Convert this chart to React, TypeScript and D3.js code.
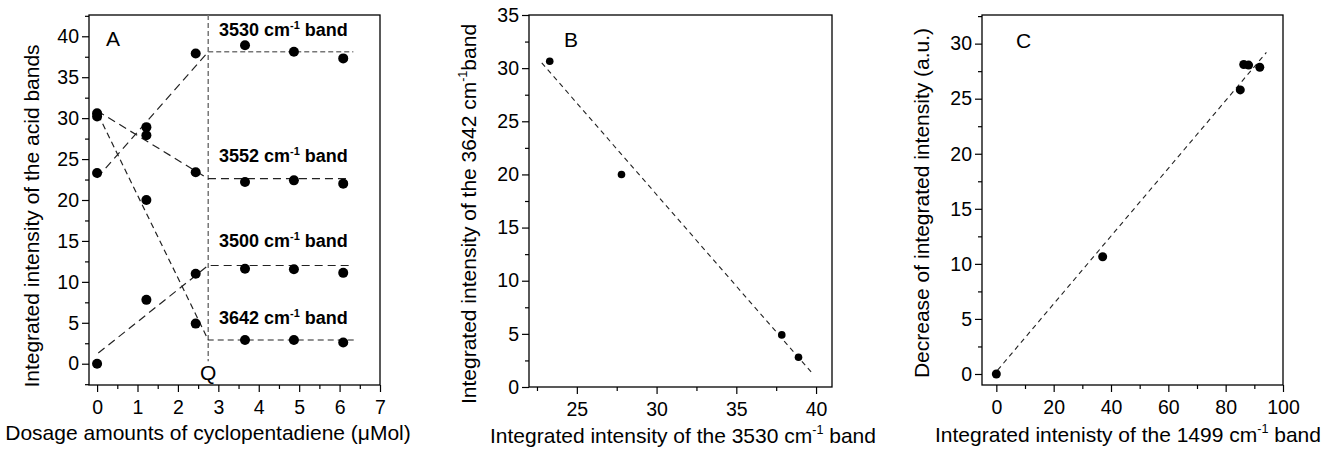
import React, { useRef, useEffect } from "react";
import * as d3 from "d3";

// panel A: dosage of cyclopentadiene (uMol) vs integrated intensity
const doseA = [0, 1.22, 2.44, 3.66, 4.87, 6.09];
const band3530 = [23.3, 28.9, 37.9, 38.9, 38.1, 37.3];
const band3552 = [30.2, 27.9, 23.4, 22.2, 22.4, 22.0];
const band3500 = [0, 7.8, 11.0, 11.6, 11.55, 11.1];
const band3642 = [30.6, 20.0, 4.9, 2.9, 2.9, 2.6];
const qDose = 2.75;
const fit3530 = [[0, 22.7], [2.75, 38.1]];
const flat3530 = [[2.75, 38.1], [6.34, 38.1]];
const fit3552 = [[0, 30.9], [2.75, 22.6], [6.22, 22.6]];
const fit3642 = [[0.03, 30.4], [2.75, 2.9], [6.35, 2.9]];
const fit3500 = [[0.03, 1.3], [2.75, 12.0], [6.32, 12.0]];
const bandLabels = [
  { band: "3530", y: 40.0 },
  { band: "3552", y: 24.6 },
  { band: "3500", y: 14.3 },
  { band: "3642", y: 4.85 },
];

// panel B: 3530 vs 3642 band
const x3530B = [23.3, 27.8, 37.85, 38.9];
const y3642B = [30.65, 20.0, 4.9, 2.8];
const fitB = [[22.8, 30.5], [39.7, 1.4]];

// panel C: 1499 band vs decrease
const x1499 = [0, 37.1, 85.1, 86.3, 88.0, 91.9];
const decreaseC = [0, 10.65, 25.8, 28.1, 28.05, 27.85];
const fitC = [[0.45, 0.35], [94.2, 29.2]];

const FONT = "'Liberation Sans', Arial, sans-serif";
const TICK_FONT = 19.5;
const AXIS_FONT = 21;

function frame(svg, box, xDom, yDom, xMajor, xMinor, yMajor, yMinor) {
  const x = d3.scaleLinear().domain(xDom).range([box.l, box.r]);
  const y = d3.scaleLinear().domain(yDom).range([box.b, box.t]);
  const g = svg.append("g");
  const inX = (v) => v >= xDom[0] - 1e-9 && v <= xDom[1] + 1e-9;
  const inY = (v) => v >= yDom[0] - 1e-9 && v <= yDom[1] + 1e-9;

  const ax = (axis, tr) => {
    const a = g.append("g").attr("transform", tr).call(axis);
    a.select(".domain").remove();
    a.selectAll("line").attr("stroke", "#000").attr("stroke-width", 1.2);
    a.selectAll("text").attr("font-family", FONT).attr("font-size", TICK_FONT).attr("fill", "#000");
    return a;
  };
  ax(d3.axisBottom(x).tickValues(xMajor).tickSize(7).tickPadding(8).tickFormat(d3.format("d")), `translate(0,${box.b})`);
  ax(d3.axisBottom(x).tickValues(xMinor.filter(inX)).tickSize(4).tickFormat(() => ""), `translate(0,${box.b})`);
  ax(d3.axisLeft(y).tickValues(yMajor).tickSize(7).tickPadding(3).tickFormat(d3.format("d")), `translate(${box.l},0)`);
  ax(d3.axisLeft(y).tickValues(yMinor.filter(inY)).tickSize(4).tickFormat(() => ""), `translate(${box.l},0)`);

  g.append("rect")
    .attr("x", box.l).attr("y", box.t)
    .attr("width", box.r - box.l).attr("height", box.b - box.t)
    .attr("fill", "none").attr("stroke", "#000").attr("stroke-width", 1.3);
  return { x, y };
}

function dashed(svg, x, y, pts, color, dash, w = 1.2) {
  svg.append("path")
    .attr("d", d3.line().x((d) => x(d[0])).y((d) => y(d[1]))(pts))
    .attr("fill", "none").attr("stroke", color)
    .attr("stroke-width", w).attr("stroke-dasharray", dash);
}

function dots(svg, x, y, xs, ys, r) {
  svg.append("g").selectAll("circle").data(xs).enter().append("circle")
    .attr("cx", (d) => x(d)).attr("cy", (d, i) => y(ys[i])).attr("r", r).attr("fill", "#000");
}

function label(svg, x, y, rotate, parts, size = AXIS_FONT) {
  const t = svg.append("text")
    .attr("font-family", FONT).attr("font-size", size)
    .attr("text-anchor", "middle")
    .attr("transform", `translate(${x},${y})${rotate ? " rotate(-90)" : ""}`);
  parts.forEach((p) => {
    if (p.sup) {
      t.append("tspan").attr("font-size", size * 0.6).attr("dy", -size * 0.42).text(p.sup);
      t.append("tspan").attr("dy", size * 0.42).text(p.after || "");
    } else {
      t.append("tspan").text(p.text);
    }
  });
}

function letter(svg, x, y, txt, anchor = "start") {
  svg.append("text").attr("font-family", FONT).attr("font-size", 21)
    .attr("x", x).attr("y", y).attr("text-anchor", anchor).text(txt);
}

const App = () => {
  const svgRef = useRef();

  useEffect(() => {
    const svg = d3.select(svgRef.current);
    svg.selectAll("*").remove();
    const range = (a, b, s) => d3.range(a, b + s / 2, s);

    // ---- A ----
    const A = frame(svg, { l: 89, r: 380, t: 15, b: 385 }, [-0.2, 7], [-2.6, 42.6],
      range(0, 7, 1), range(0.5, 6.5, 1), range(0, 40, 5), range(-2.5, 42.5, 5));
    svg.append("line")
      .attr("x1", A.x(qDose)).attr("x2", A.x(qDose))
      .attr("y1", A.y(42.6)).attr("y2", A.y(0.3))
      .attr("stroke", "#777").attr("stroke-width", 1.5).attr("stroke-dasharray", "5,3");
    dashed(svg, A.x, A.y, fit3530, "#222", "8,5");
    dashed(svg, A.x, A.y, flat3530, "#777", "5,3", 1.5);
    dashed(svg, A.x, A.y, fit3552, "#222", "8,5");
    dashed(svg, A.x, A.y, fit3642, "#222", "6,4");
    dashed(svg, A.x, A.y, fit3500, "#222", "8,5");
    [band3530, band3552, band3500, band3642].forEach((s) => dots(svg, A.x, A.y, doseA, s, 5));
    bandLabels.forEach((b) => {
      const t = svg.append("text").attr("font-family", FONT).attr("font-weight", "bold")
        .attr("font-size", 18).attr("x", 219).attr("y", A.y(b.y));
      t.append("tspan").text(`${b.band} cm`);
      t.append("tspan").attr("font-size", 11).attr("dy", -7).text("-1");
      t.append("tspan").attr("dy", 7).text(" band");
    });
    letter(svg, 106, 46, "A");
    letter(svg, A.x(qDose), 380, "Q", "middle");
    label(svg, 39, 216, true, [{ text: "Integrated intensity of the acid bands" }]);
    label(svg, 208, 440, false, [{ text: "Dosage amounts of cyclopentadiene (\u03bcMol)" }]);

    // ---- B ----
    const B = frame(svg, { l: 529, r: 832, t: 15, b: 387 }, [22, 41], [0, 35],
      range(25, 40, 5), range(22.5, 42.5, 5), range(0, 35, 5), range(2.5, 32.5, 5));
    dashed(svg, B.x, B.y, fitB, "#222", "5,4", 1.1);
    dots(svg, B.x, B.y, x3530B, y3642B, 3.8);
    letter(svg, 564, 47, "B");
    label(svg, 476, 214, true, [{ text: "Integrated intensity of the 3642 cm" }, { sup: "-1", after: "band" }]);
    label(svg, 683, 443, false, [{ text: "Integrated intensity of the 3530 cm" }, { sup: "-1", after: "  band" }]);

    // ---- C ----
    const C = frame(svg, { l: 982, r: 1283, t: 15, b: 385 }, [-5, 100], [-1, 32.6],
      range(0, 100, 20), range(10, 90, 20), range(0, 30, 5), range(2.5, 32.5, 5));
    dashed(svg, C.x, C.y, fitC, "#222", "5,4", 1.1);
    dots(svg, C.x, C.y, x1499, decreaseC, 4.5);
    letter(svg, 1016, 48, "C");
    label(svg, 929, 203, true, [{ text: "Decrease of integrated intensity (a.u.)" }]);
    label(svg, 1128, 442, false, [{ text: "Integrated intenisty of the 1499 cm" }, { sup: "-1", after: " band" }]);
  }, []);

  return (
    <svg ref={svgRef} width={1336} height={449}
      style={{ position: "absolute", left: 0, top: 0, background: "#fff" }} />
  );
};

export default App;
